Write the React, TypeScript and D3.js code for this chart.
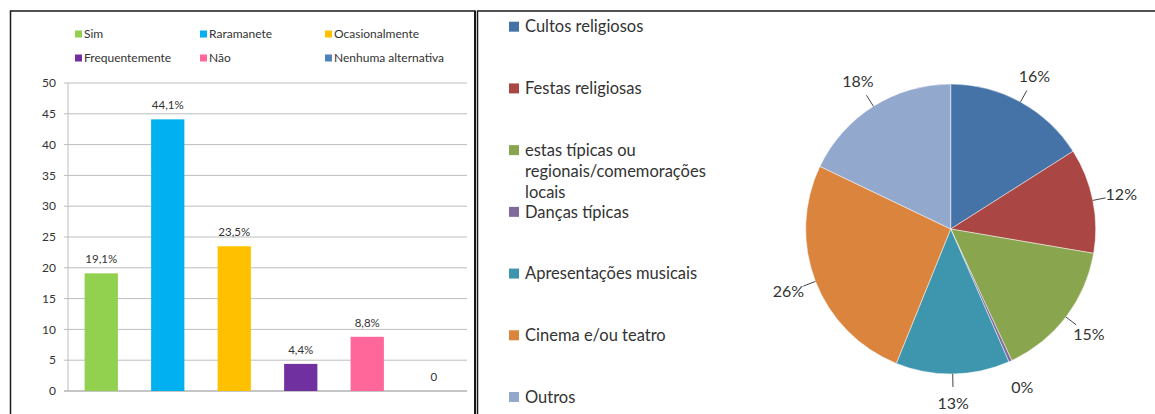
import React from "react";
import * as d3 from "d3";

const barCategories = ["Sim", "Raramanete", "Ocasionalmente", "Frequentemente", "Não", "Nenhuma alternativa"];
const barValues = [19.1, 44.1, 23.5, 4.4, 8.8, 0];
const barColors = ["#92D050", "#00B0F0", "#FFC000", "#7030A0", "#FF6699", "#4F81BD"];
const yTicks = [0, 5, 10, 15, 20, 25, 30, 35, 40, 45, 50];

const pieCategories = [
  "Cultos religiosos",
  "Festas religiosas",
  "estas típicas ou\nregionais/comemorações\nlocais",
  "Danças típicas",
  "Apresentações musicais",
  "Cinema e/ou teatro",
  "Outros",
];
const pieValues = [16, 11.7, 15.4, 0.35, 12.7, 26, 17.9];
const pieColors = ["#4572A7", "#AA4643", "#89A54E", "#80699B", "#3D96AE", "#DB843D", "#92A8CD"];

const FONT = "Lato, 'Open Sans', sans-serif";
const TXT = "#333";

export default function App() {
  const W = 1155, H = 414;

  // Bar chart
  const x = d3.scaleBand<string>().domain(barCategories).range([68, 467]).paddingInner(0.5).paddingOuter(0.25);
  const y = d3.scaleLinear().domain([0, 50]).range([391, 83]);
  const fmt = (v: number) => (v === 0 ? "0" : d3.format(".1f")(v).replace(".", ",") + "%");

  // Pie
  const cx = 950.7, cy = 229, r = 145;
  const total = d3.sum(pieValues);
  const pieGen = d3.pie<number>().sort(null).value((d) => d);
  const arcs = pieGen(pieValues);
  const arcGen = d3.arc<d3.PieArcDatum<number>>().innerRadius(0).outerRadius(r);
  const legendY = d3.scalePoint<string>().domain(pieCategories).range([26.7, 397]);

  const polar = (a: number, rad: number): [number, number] => [Math.sin(a) * rad, -Math.cos(a) * rad];

  return (
    <svg width={W} height={H} style={{ position: "absolute", left: 0, top: 0, background: "#fff" }} fontFamily={FONT}>
      <rect x={0} y={0} width={W} height={H} fill="#fff" />
      {/* panel borders */}
      <path d="M10.5,414 V11 H475" fill="none" stroke="#1a1a1a" strokeWidth={1.5} />
      <line x1={475} y1={10.5} x2={475} y2={414} stroke="#1a1a1a" strokeWidth={2} />
      <path d="M477.5,414 V11 H1155" fill="none" stroke="#1a1a1a" strokeWidth={1.5} />

      {/* bar legend */}
      {barCategories.map((c, i) => {
        const lx = 75 + (i % 3) * 125;
        const ly = 34 + Math.floor(i / 3) * 24;
        return (
          <g key={c}>
            <rect x={lx} y={ly - 3.5} width={7} height={7} fill={barColors[i]} />
            <text x={lx + 9} y={ly} dy="0.35em" fontSize={12} fill={TXT}>{c}</text>
          </g>
        );
      })}

      {/* grid */}
      {yTicks.map((t) => (
        <g key={t}>
          <line x1={64} x2={467} y1={y(t)} y2={y(t)} stroke={t === 0 ? "#8c8c8c" : "#bdbdbd"} strokeWidth={1} />
          <text x={56} y={y(t)} dy="0.35em" textAnchor="end" fontSize={12} fill={TXT}>{t}</text>
        </g>
      ))}
      <line x1={68} x2={68} y1={y(50)} y2={y(0)} stroke="#bdbdbd" strokeWidth={1} />

      {/* bars */}
      {barCategories.map((c, i) => (
        <g key={c}>
          {barValues[i] > 0 && (
            <rect x={x(c)} y={y(barValues[i])} width={x.bandwidth()} height={y(0) - y(barValues[i])} fill={barColors[i]} />
          )}
          <text x={(x(c) as number) + x.bandwidth() / 2} y={y(barValues[i]) - 10} textAnchor="middle" fontSize={11.5} fill={TXT}>
            {fmt(barValues[i])}
          </text>
        </g>
      ))}

      {/* pie legend */}
      {pieCategories.map((c, i) => {
        const ly = legendY(c) as number;
        const lines = c.split("\n");
        return (
          <g key={c}>
            <rect x={509} y={ly - 5} width={10} height={10} fill={pieColors[i]} />
            {lines.map((ln, j) => (
              <text key={j} x={525} y={ly + j * 20.8} dy="0.35em" fontSize={16.5} fill={TXT}>{ln}</text>
            ))}
          </g>
        );
      })}

      {/* pie */}
      <g transform={`translate(${cx},${cy})`}>
        {arcs.map((a, i) => (
          <path key={i} d={arcGen(a) as string} fill={pieColors[i]} stroke="#ffffff" strokeOpacity={0.6} strokeWidth={0.8} />
        ))}
        {arcs.map((a, i) => {
          const mid = (a.startAngle + a.endAngle) / 2;
          const pct = Math.round((a.value / total) * 100);
          const [tx, ty] = polar(mid, r + 29);
          const [x0, y0] = polar(mid, r);
          const [x1, y1] = polar(mid, r + 13);
          return (
            <g key={"l" + i}>
              {pct >= 1 && <line x1={x0} y1={y0} x2={x1} y2={y1} stroke="#444" strokeWidth={1} />}
              <text x={tx} y={ty} dy="0.35em" textAnchor="middle" fontSize={16} fill={TXT}>{pct + "%"}</text>
            </g>
          );
        })}
      </g>
    </svg>
  );
}
